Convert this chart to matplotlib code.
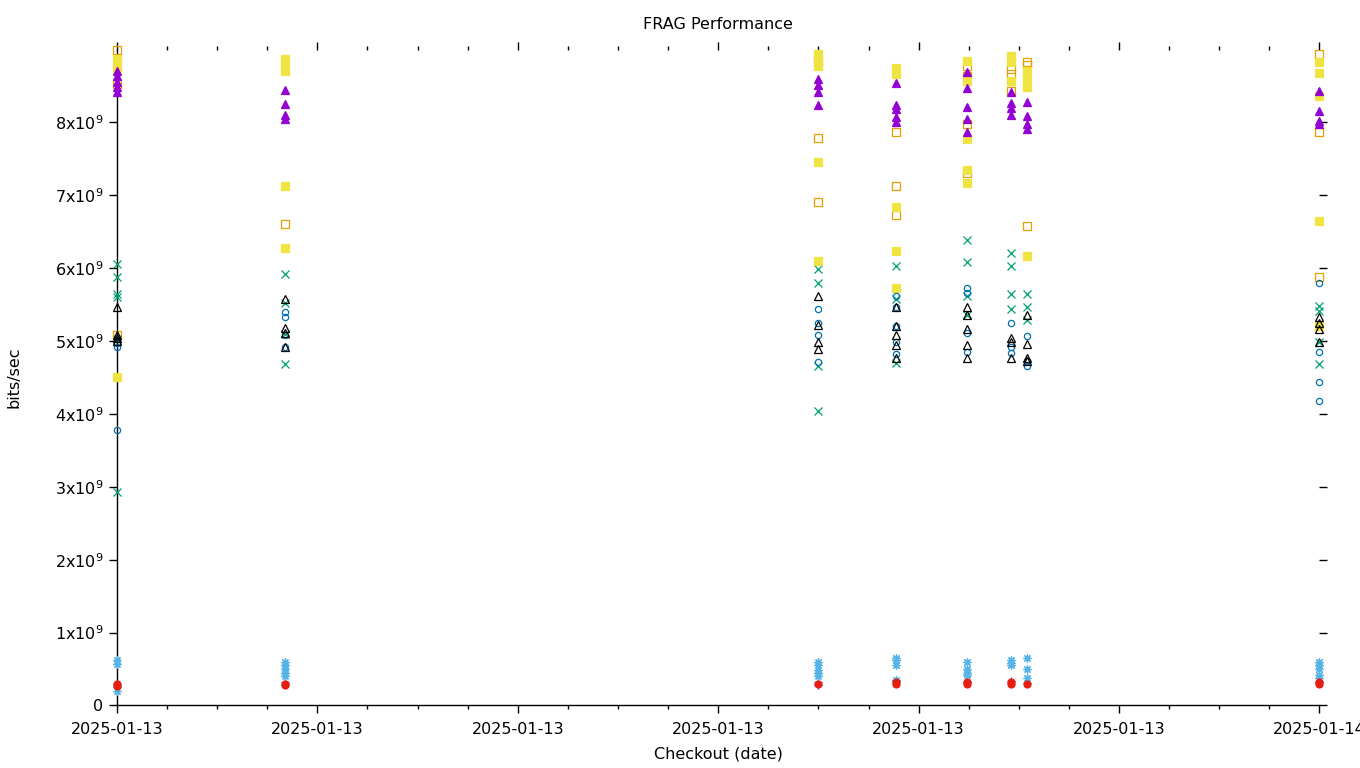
import datetime as dt
import matplotlib
matplotlib.use("Agg")
import matplotlib.pyplot as plt
import matplotlib.dates as mdates
from matplotlib.ticker import FuncFormatter, MultipleLocator

# checkout times (one per run cluster)
run_times = [
    dt.datetime(2025, 1, 13, 0, 0),
    dt.datetime(2025, 1, 13, 3, 21),
    dt.datetime(2025, 1, 13, 13, 59),
    dt.datetime(2025, 1, 13, 15, 33),
    dt.datetime(2025, 1, 13, 16, 58),
    dt.datetime(2025, 1, 13, 17, 51),
    dt.datetime(2025, 1, 13, 18, 10),
    dt.datetime(2025, 1, 14, 0, 0),
]

# values in units of 1e9 bits/sec, one list per run
plus_purple = [[0.30, 0.25], [0.32], [0.28, 0.32], [0.33], [0.32], [0.33], [0.31], [0.32]]
x_green = [
    [6.05, 5.88, 5.64, 5.60, 5.02, 2.93],
    [5.92, 5.52, 5.10, 4.69],
    [5.98, 5.79, 4.66, 4.04],
    [6.03, 5.58, 4.70],
    [6.39, 6.08, 5.62, 5.36],
    [6.20, 6.03, 5.65, 5.44],
    [5.65, 5.47, 5.29],
    [5.48, 5.41, 4.98, 4.69],
]
star_sky = [
    [0.62, 0.57, 0.20],
    [0.60, 0.55, 0.50, 0.45, 0.40],
    [0.60, 0.55, 0.49, 0.45, 0.40],
    [0.65, 0.62, 0.55, 0.35],
    [0.60, 0.50, 0.45, 0.42],
    [0.62, 0.58, 0.55],
    [0.65, 0.50, 0.38],
    [0.60, 0.55, 0.50, 0.42, 0.38],
]
sq_orange = [
    [8.99, 8.52, 5.08],
    [6.61],
    [8.84, 7.78, 6.91],
    [7.86, 7.13, 6.73],
    [8.77, 8.63, 7.97, 7.30],
    [8.73, 8.66, 8.43],
    [8.82, 8.78, 6.58],
    [8.93, 7.86, 5.88],
]
sq_yellow = [
    [8.87, 8.80, 8.72, 4.51],
    [8.87, 8.78, 8.70, 7.13, 6.27],
    [8.93, 8.84, 8.77, 7.46, 6.09],
    [8.74, 8.66, 6.84, 6.23, 5.72],
    [8.84, 8.56, 7.77, 7.35, 7.16],
    [8.91, 8.82, 8.56],
    [8.70, 8.59, 8.48, 6.16],
    [8.82, 8.67, 8.36, 6.64, 5.20],
]
circ_blue = [
    [5.02, 4.97, 4.92, 3.78],
    [5.39, 5.33, 5.08, 4.92],
    [5.44, 5.25, 5.08, 4.71],
    [5.62, 5.47, 5.20, 4.99, 4.82],
    [5.72, 5.66, 5.11, 4.85],
    [5.24, 4.92, 4.84],
    [5.07, 4.73, 4.66],
    [5.80, 4.85, 4.44, 4.17],
]
circ_red = [[0.30, 0.27], [0.30, 0.28], [0.30], [0.32, 0.30], [0.32, 0.30], [0.32, 0.30], [0.30], [0.30, 0.32]]
tri_black = [
    [5.46, 5.08, 5.04, 5.00],
    [5.58, 5.18, 5.11, 4.91],
    [5.61, 5.22, 4.99, 4.89],
    [5.46, 5.20, 5.08, 4.95, 4.77],
    [5.47, 5.35, 5.17, 4.95, 4.77],
    [5.04, 4.98, 4.77],
    [5.36, 4.96, 4.77, 4.73],
    [5.33, 5.25, 5.16, 4.99],
]
tri_purple = [
    [8.70, 8.63, 8.55, 8.48, 8.41],
    [8.44, 8.25, 8.10, 8.04],
    [8.59, 8.51, 8.41, 8.23],
    [8.54, 8.23, 8.18, 8.07, 8.00],
    [8.69, 8.47, 8.21, 8.04, 7.86],
    [8.41, 8.26, 8.19, 8.10],
    [8.27, 8.08, 7.97, 7.90],
    [8.43, 8.15, 8.01, 7.97],
]

# gnuplot-like series styles, in plotting order: data, colour, marker, filled, size
series = [
    (plus_purple, "#9400d3", "+", True, 6),
    (x_green, "#009e73", "x", True, 5.5),
    (star_sky, "#56b4e9", (8, 2, 0), True, 6),
    (sq_orange, "#e69f00", "s", False, 5.5),
    (sq_yellow, "#f0e442", "s", True, 5.5),
    (circ_blue, "#0072b2", "o", False, 4.5),
    (circ_red, "#e51e10", "o", True, 5),
    (tri_black, "#000000", "^", False, 6),
    (tri_purple, "#9400d3", "^", True, 6),
]

plt.rcParams["font.family"] = "DejaVu Sans"
fig = plt.figure(figsize=(13.6, 7.68), dpi=100)
ax = fig.add_axes([0.086, 0.0814, 0.8842, 0.8535])

for runs, color, marker, filled, size in series:
    xs, ys = [], []
    for t, vals in zip(run_times, runs):
        for v in vals:
            xs.append(t)
            ys.append(v * 1e9)
    ax.plot(xs, ys, linestyle="none", marker=marker, markersize=size,
            markeredgewidth=0.9, color=color,
            markerfacecolor=color if filled else "none",
            clip_on=False, zorder=3)

ax.set_xlim(dt.datetime(2025, 1, 13), dt.datetime(2025, 1, 14))
ax.set_ylim(0, 8.99e9)

ax.xaxis.set_major_locator(mdates.HourLocator(byhour=range(0, 24, 4)))
ax.xaxis.set_minor_locator(mdates.HourLocator())
ax.xaxis.set_major_formatter(mdates.DateFormatter("%Y-%m-%d"))

ax.yaxis.set_major_locator(MultipleLocator(1e9))
ax.yaxis.set_major_formatter(FuncFormatter(
    lambda v, p: "0" if v == 0 else f"{int(round(v / 1e9))}x10$^{{9}}$"))

for side in ("top", "right"):
    ax.spines[side].set_visible(False)
for side in ("left", "bottom"):
    ax.spines[side].set_linewidth(1.0)

ax.tick_params(which="both", direction="out", top=True, right=True, labelsize=11.5)
ax.tick_params(which="major", length=6, width=1.0)
ax.tick_params(axis="x", which="major", pad=6)
ax.tick_params(axis="y", which="major", pad=4)
ax.tick_params(which="minor", length=3, width=1.0)

ax.set_title("FRAG Performance", fontsize=11.5, pad=15)
ax.set_xlabel("Checkout (date)", fontsize=11.5, labelpad=7)
ax.set_ylabel("bits/sec", fontsize=11.5)
ax.yaxis.set_label_coords(-0.079, 0.5)

fig.savefig("out.png", dpi=100)
